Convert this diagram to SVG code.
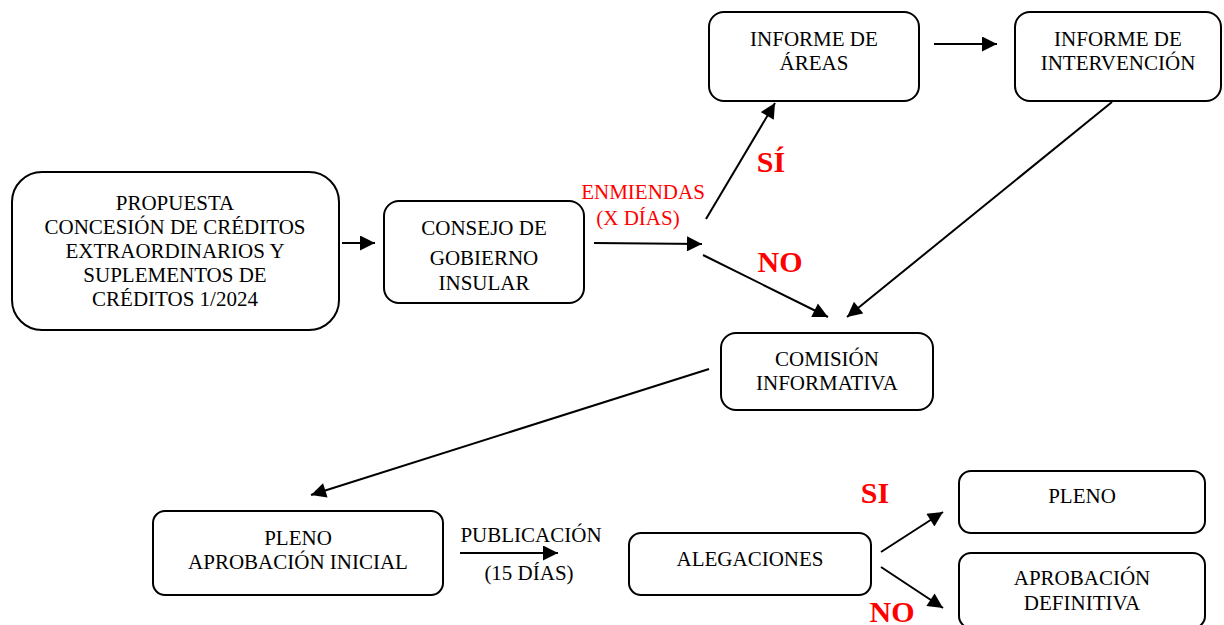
<svg xmlns="http://www.w3.org/2000/svg" width="1224" height="625" viewBox="0 0 1224 625">
<style>
.box{fill:#fff;stroke:#000;stroke-width:2}
.t{font-family:"Liberation Serif",serif;font-size:21px;fill:#000;text-anchor:middle}
.r{font-family:"Liberation Serif",serif;font-size:21px;fill:#f00;text-anchor:middle}
.b{font-family:"Liberation Serif",serif;font-size:30px;font-weight:bold;fill:#f00;text-anchor:middle}
.c{stroke:#000;stroke-width:2;fill:none;marker-end:url(#ah)}
</style>
<defs>
<marker id="ah" viewBox="0 0 10 10" refX="10" refY="5" markerWidth="8" markerHeight="7.5" markerUnits="strokeWidth" orient="auto">
<path d="M0,0 L10,5 L0,10 z" fill="#000"/>
</marker>
</defs>
<rect width="1224" height="625" fill="#fff"/>
<g id="connectors">
<line class="c" x1="342" y1="243" x2="375" y2="243"/>
<line class="c" x1="594" y1="243" x2="702" y2="244"/>
<line class="c" x1="706" y1="219" x2="775" y2="103"/>
<line class="c" x1="703" y1="255" x2="828" y2="317"/>
<line class="c" x1="934" y1="44" x2="997" y2="44"/>
<line class="c" x1="1112" y1="102" x2="847" y2="317"/>
<line class="c" x1="709" y1="369" x2="311" y2="495"/>
<line class="c" x1="460" y1="553" x2="558" y2="553"/>
<line class="c" x1="881" y1="552" x2="943" y2="512"/>
<line class="c" x1="881" y1="567" x2="943" y2="608"/>
</g>
<g id="labels">
<text class="r" x="643" y="199">ENMIENDAS</text>
<text class="r" x="638" y="225">(X DÍAS)</text>
<text class="b" x="771" y="172">SÍ</text>
<text class="b" x="780" y="272">NO</text>
<text class="t" x="531" y="542">PUBLICACIÓN</text>
<text class="t" x="529" y="580">(15 DÍAS)</text>
<text class="b" x="875" y="503">SI</text>
<text class="b" x="892" y="622">NO</text>
</g>
<g id="propuesta">
<rect class="box" x="12" y="172" width="327" height="158" rx="30"/>
<text class="t" x="175" y="210">PROPUESTA</text>
<text class="t" x="175" y="234">CONCESIÓN DE CRÉDITOS</text>
<text class="t" x="175" y="258">EXTRAORDINARIOS Y</text>
<text class="t" x="175" y="282">SUPLEMENTOS DE</text>
<text class="t" x="175" y="306">CRÉDITOS 1/2024</text>
</g>
<g id="consejo">
<rect class="box" x="384" y="201" width="200" height="102" rx="15"/>
<text class="t" x="484" y="235">CONSEJO DE</text>
<text class="t" x="484" y="265">GOBIERNO</text>
<text class="t" x="484" y="290">INSULAR</text>
</g>
<g id="informe-areas">
<rect class="box" x="709" y="12" width="210" height="89" rx="15"/>
<text class="t" x="814" y="46">INFORME DE</text>
<text class="t" x="814" y="70">ÁREAS</text>
</g>
<g id="informe-intervencion">
<rect class="box" x="1015" y="12" width="206" height="89" rx="15"/>
<text class="t" x="1118" y="46">INFORME DE</text>
<text class="t" x="1118" y="70">INTERVENCIÓN</text>
</g>
<g id="comision">
<rect class="box" x="721" y="333" width="212" height="77" rx="15"/>
<text class="t" x="827" y="366">COMISIÓN</text>
<text class="t" x="827" y="390">INFORMATIVA</text>
</g>
<g id="pleno-inicial">
<rect class="box" x="153" y="511" width="290" height="84" rx="12"/>
<text class="t" x="298" y="545">PLENO</text>
<text class="t" x="298" y="569">APROBACIÓN INICIAL</text>
</g>
<g id="alegaciones">
<rect class="box" x="629" y="533" width="242" height="62" rx="12"/>
<text class="t" x="750" y="566">ALEGACIONES</text>
</g>
<g id="pleno">
<rect class="box" x="959" y="471" width="246" height="62" rx="12"/>
<text class="t" x="1082" y="503">PLENO</text>
</g>
<g id="aprobacion-definitiva">
<rect class="box" x="959" y="553" width="246" height="75" rx="12"/>
<text class="t" x="1082" y="585">APROBACIÓN</text>
<text class="t" x="1082" y="610">DEFINITIVA</text>
</g>
</svg>
